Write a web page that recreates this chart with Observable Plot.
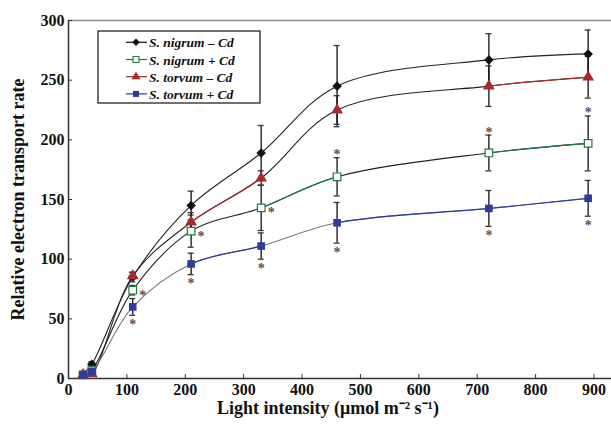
<!DOCTYPE html>
<html><head><meta charset="utf-8">
<script src="https://cdn.jsdelivr.net/npm/d3@7"></script>
<script src="https://cdn.jsdelivr.net/npm/@observablehq/plot@0.6"></script>
<style>body{margin:0;background:#fff}</style>
</head><body><div id="chart"></div>
<script>
// ---- data ----
const light = [25, 40, 110, 210, 330, 460, 720, 890];
const seriesNames = ["S. nigrum – Cd", "S. nigrum + Cd", "S. torvum – Cd", "S. torvum + Cd"];
const nigrumMinus    = [4, 12, 85, 145, 189, 245, 267, 272];
const nigrumMinusErr = [1, 2, 4, 12, 23, 34, 22, 20];
const nigrumPlus     = [3, 7, 74, 123.5, 143, 169, 189, 197];
const nigrumPlusErr  = [1, 2, 4, 13.5, 19, 16, 15, 23];
const torvumMinus    = [3, 4, 86, 131, 168, 225, 245, 252.5];
const torvumMinusErr = [1, 1, 3, 8, 6, 12, 17, 17.5];
const torvumPlus     = [3, 6, 60, 96, 111, 130.5, 142.5, 151];
const torvumPlusErr  = [1, 2, 7, 9, 11, 17, 15, 15];
// significance asterisks (placement)
const sigNigrumPlus = ["", "", "right", "right", "right", "above", "above", "above"];
const sigTorvumPlus = ["", "", "below", "below", "below", "below", "below", "below"];
const noSig = ["", "", "", "", "", "", "", ""];
const xTicks = [0, 100, 200, 300, 400, 500, 600, 700, 800, 900];
const yTicks = [0, 50, 100, 150, 200, 250, 300];
// parts of each curve drawn in the series colour (the rest is drawn dark)
const colouredSpans = [[], [[330, 460], [720, 900]], [[210, 330], [720, 900]], [[210, 330], [460, 900]]];

const colors = ["#111111", "#1d7a44", "#a82a2c", "#2d3b9c"];
const baseLine = ["#222222", "#222222", "#222222", "#7a7a7a"];
const symbols = ["diamond2", "square", "triangle", "square"];
const fills = ["#111111", "#ffffff", "#a82a2c", "#2d3b9c"];

const vals = [nigrumMinus, nigrumPlus, torvumMinus, torvumPlus];
const errs = [nigrumMinusErr, nigrumPlusErr, torvumMinusErr, torvumPlusErr];
const sigs = [noSig, sigNigrumPlus, noSig, sigTorvumPlus];

const series = seriesNames.map((name, s) => light.map((x, i) => ({
  s, name, x, y: vals[s][i], err: errs[s][i], sig: sigs[s][i]
})));
const all = series.flat();

const marks = [];
// frame
marks.push(Plot.ruleY([300], {stroke: "#8a8a8a", strokeWidth: 1.5}));
marks.push(Plot.ruleX([0], {stroke: "#333", strokeWidth: 1.5}));
marks.push(Plot.ruleY([0], {stroke: "#333", strokeWidth: 1.5}));
// inward ticks
marks.push(Plot.ruleX(xTicks, {x: d => d, y1: 0, y2: 0, insetTop: -4, stroke: "#333"}));
marks.push(Plot.ruleY(yTicks, {y: d => d, x1: 0, x2: 0, insetRight: -4, stroke: "#333"}));
marks.push(Plot.axisX({ticks: xTicks, tickSize: 0, tickPadding: 5, label: null, fontSize: 16}));
marks.push(Plot.axisY({ticks: yTicks, tickSize: 0, tickPadding: 4, label: null, fontSize: 16}));

// curves
series.forEach((rows, s) => {
  marks.push(Plot.line(rows, {x: "x", y: "y", curve: "catmull-rom", stroke: baseLine[s], strokeWidth: 1.1}));
  if (colouredSpans[s].length)
    marks.push(Plot.line(rows, {x: "x", y: "y", curve: "catmull-rom", stroke: colors[s], strokeWidth: 1.2, ariaDescription: "coloured-" + s}));
});
// error bars
marks.push(Plot.ruleX(all, {x: "x", y1: d => d.y - d.err, y2: d => d.y + d.err, stroke: "#111", strokeWidth: 1.3}));
marks.push(Plot.ruleY(all, {y: d => d.y - d.err, x1: "x", x2: "x", insetLeft: -3, insetRight: -3, stroke: "#333", strokeWidth: 1.3}));
marks.push(Plot.ruleY(all, {y: d => d.y + d.err, x1: "x", x2: "x", insetLeft: -3, insetRight: -3, stroke: "#333", strokeWidth: 1.3}));
// points
[0, 1, 2, 3].forEach(s => {
  marks.push(Plot.dot(series[s], {x: "x", y: "y", symbol: symbols[s], r: s === 2 ? 4.4 : 4.3,
    fill: fills[s], stroke: s === 1 ? colors[1] : "none", strokeWidth: 1.2}));
});
// asterisks
const starStyle = {text: () => "*", fill: "#555", fontSize: 14, fontWeight: "bold"};
marks.push(Plot.text(all.filter(d => d.sig === "right"), {x: "x", y: "y", dx: 10, dy: 5, ...starStyle}));
marks.push(Plot.text(all.filter(d => d.sig === "above"), {x: "x", y: d => d.y + d.err, dy: -3, ...starStyle}));
marks.push(Plot.text(all.filter(d => d.sig === "below"), {x: "x", y: d => d.y - d.err, dy: 9, ...starStyle}));
// axis titles
marks.push(Plot.text(["Light intensity (μmol m⁻² s⁻¹)"], {frameAnchor: "bottom", dx: -12, dy: 35, fontSize: 18, fontWeight: "bold", fill: "#111"}));
marks.push(Plot.text(["Relative electron transport rate"], {frameAnchor: "left", textAnchor: "middle", dx: -50, rotate: -90, fontSize: 18, fontWeight: "bold", fill: "#111"}));

const chart = Plot.plot({
  width: 611, height: 424,
  marginLeft: 68, marginRight: 0, marginTop: 20, marginBottom: 46,
  x: {domain: [0, 930]},
  y: {domain: [0, 300]},
  style: {fontFamily: "'Liberation Serif', 'Times New Roman', serif", fontWeight: "bold", color: "#111", background: "#fff"},
  marks
});

// restrict the coloured copies of the curves to their coloured spans
const svg = d3.select(chart);
const xs = chart.scale("x");
const defs = svg.append("defs");
colouredSpans.forEach((spans, s) => {
  if (!spans.length) return;
  const cp = defs.append("clipPath").attr("id", "clipc" + s);
  spans.forEach(([a, b]) => cp.append("rect")
    .attr("x", xs.apply(a)).attr("width", xs.apply(b) - xs.apply(a))
    .attr("y", 0).attr("height", 424));
  svg.selectAll(`[aria-description="coloured-${s}"]`).attr("clip-path", `url(#clipc${s})`);
});

// legend
const lg = svg.append("g").attr("text-anchor", "start");
lg.append("rect").attr("x", 98).attr("y", 31).attr("width", 162).attr("height", 72)
  .attr("fill", "#fff").attr("stroke", "#111").attr("stroke-width", 1.2);
const symMap = {diamond2: d3.symbolDiamond2, square: d3.symbolSquare, triangle: d3.symbolTriangle};
seriesNames.forEach((name, s) => {
  const yy = 42.3 + s * 17.2;
  lg.append("line").attr("x1", 126).attr("x2", 147).attr("y1", yy).attr("y2", yy)
    .attr("stroke", colors[s]).attr("stroke-width", 1.2);
  const r = 3.4;
  lg.append("path").attr("d", d3.symbol(symMap[symbols[s]], r * r * Math.PI)())
    .attr("transform", `translate(136,${yy})`)
    .attr("fill", fills[s]).attr("stroke", s === 1 ? colors[1] : "none").attr("stroke-width", 1.1);
  lg.append("text").attr("x", 149).attr("y", yy + 5).text(name)
    .attr("font-size", 13.5).attr("font-style", "italic").attr("font-weight", "bold").attr("fill", "#111");
});

document.getElementById("chart").appendChild(chart);
</script>
</body></html>
